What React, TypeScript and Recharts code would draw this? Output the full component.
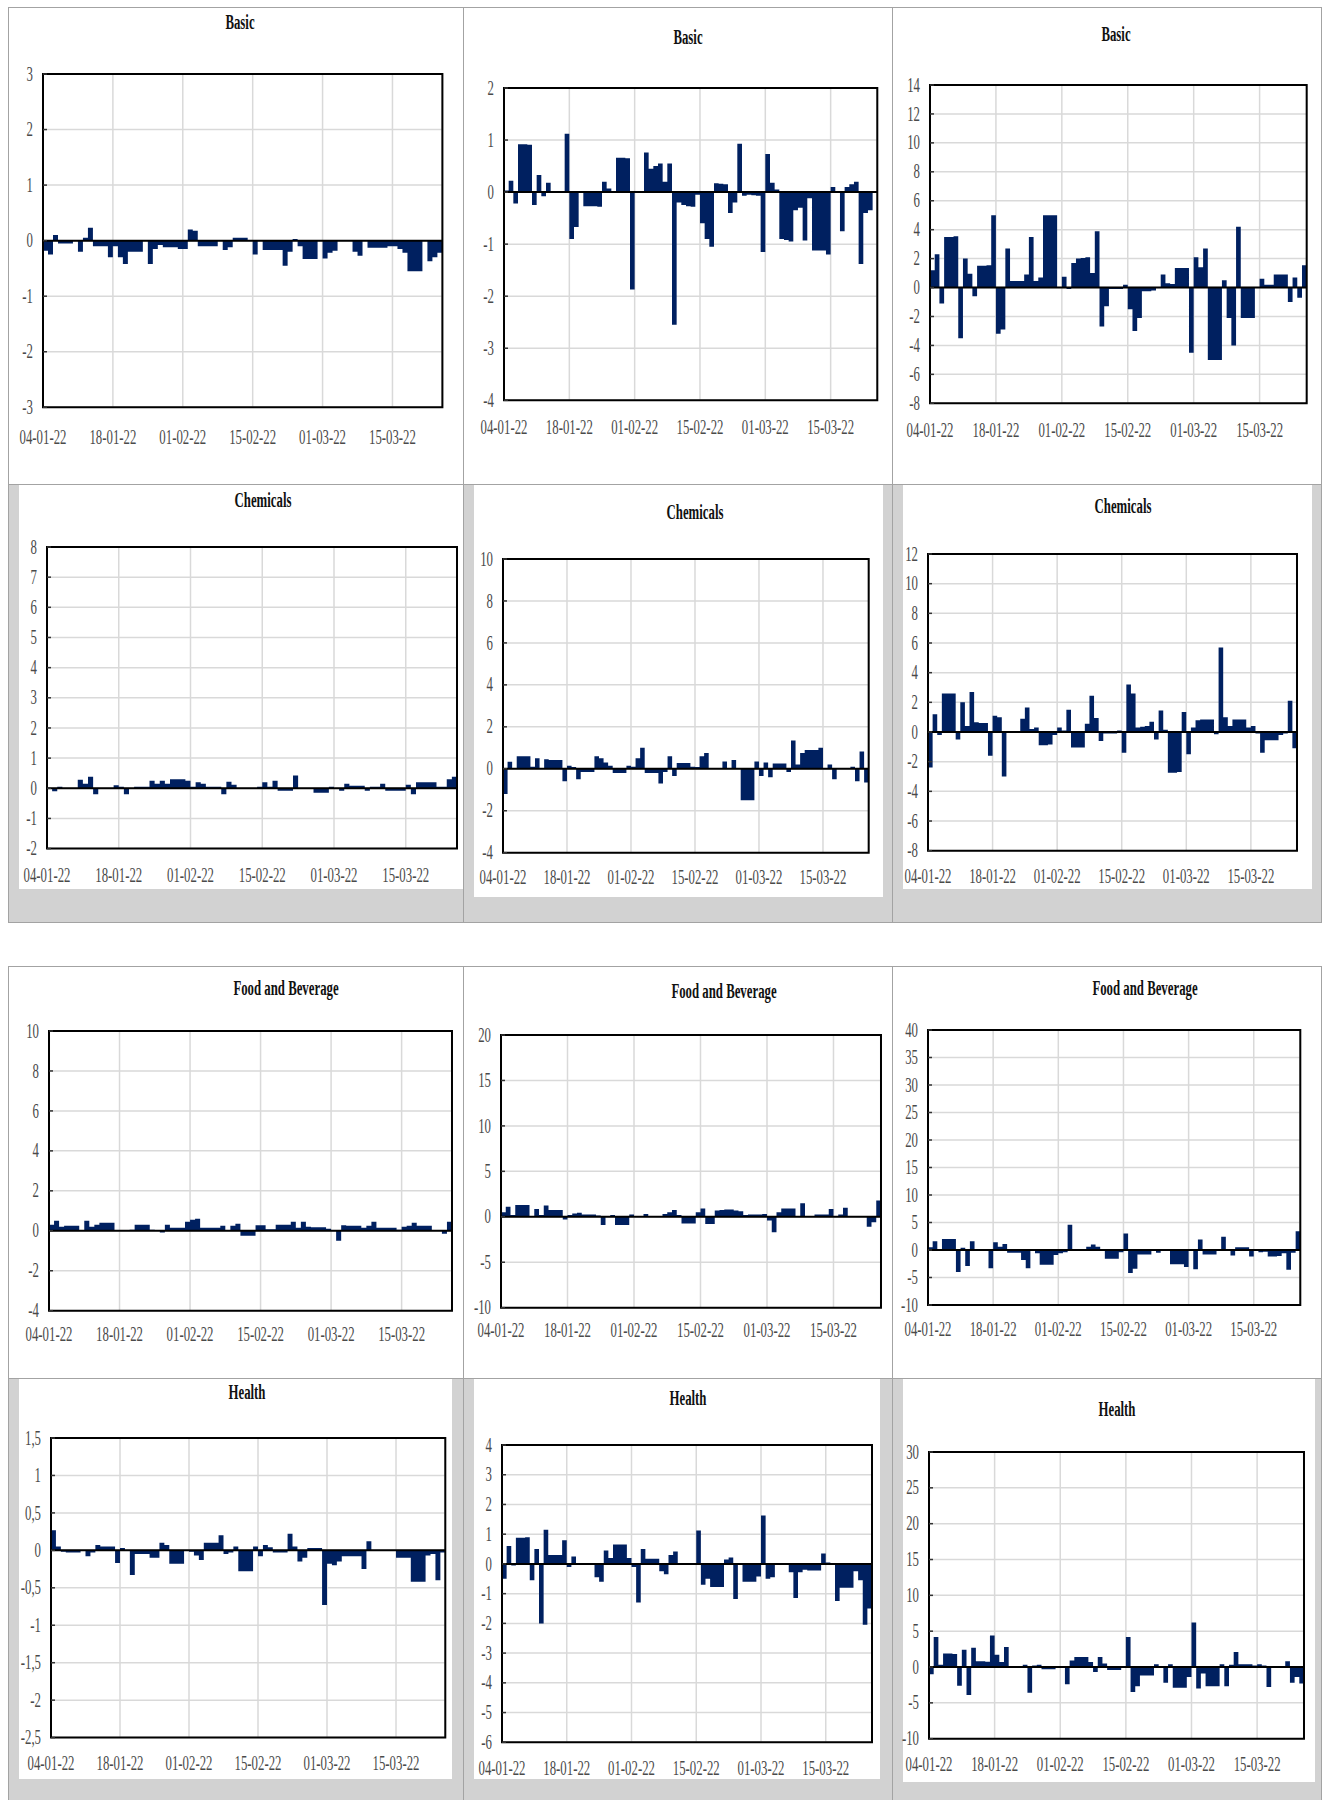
import React from 'react';
import { AreaChart, Area, XAxis, YAxis, CartesianGrid, ReferenceLine, ReferenceArea } from 'recharts';

// ---------- data ----------
const dateTicks = [0, 14, 28, 42, 56, 70];
const dateLabels = ['04-01-22', '18-01-22', '01-02-22', '15-02-22', '01-03-22', '15-03-22'];
const dayCount = 80;

const basic1 = [
  -0.18, -0.25, 0.1, -0.05, -0.05, -0.05, 0, -0.2, 0.05, 0.23,
  -0.1, -0.1, -0.1, -0.3, -0.1, -0.3, -0.42, -0.2, -0.2, -0.2,
  0, -0.42, -0.15, -0.08, -0.12, -0.12, -0.12, -0.15, -0.15, 0.2,
  0.18, -0.1, -0.1, -0.1, -0.1, 0, -0.17, -0.12, 0.05, 0.05,
  0.05, 0, -0.25, 0, -0.17, -0.17, -0.17, -0.17, -0.45, -0.2,
  0.03, -0.1, -0.33, -0.33, -0.33, 0, -0.32, -0.22, -0.18, 0,
  0, 0, -0.2, -0.27, 0, -0.13, -0.13, -0.13, -0.13, -0.1,
  -0.1, -0.15, -0.22, -0.55, -0.55, -0.55, 0, -0.37, -0.3, -0.22,
];
const basic2 = [
  0.03, 0.22, -0.22, 0.92, 0.92, 0.91, -0.25, 0.33, -0.08, 0.18,
  0, 0, 0, 1.12, -0.9, -0.67, 0, -0.27, -0.27, -0.27,
  -0.28, 0.2, 0.07, 0, 0.66, 0.66, 0.65, -1.87, 0, 0.02,
  0.76, 0.45, 0.5, 0.55, 0.2, 0.55, -2.55, -0.2, -0.25, -0.27,
  -0.28, -0.05, -0.6, -0.9, -1.05, 0.17, 0.16, 0.15, -0.4, -0.2,
  0.93, -0.07, -0.05, -0.06, -0.07, -1.15, 0.73, 0.18, 0.05, -0.9,
  -0.92, -0.95, -0.35, -0.3, -0.93, -0.12, -1.12, -1.12, -1.12, -1.2,
  0.1, 0.02, -0.75, 0.1, 0.15, 0.2, -1.38, -0.4, -0.35, 0,
];
const basic3 = [
  1.2, 2.3, -1.1, 3.5, 3.5, 3.55, -3.5, 2.0, 0.95, -0.6,
  1.5, 1.5, 1.55, 5.0, -3.2, -2.9, 2.7, 0.45, 0.45, 0.45,
  0.9, 3.5, 0.45, 0.7, 5.0, 5.0, 5.0, 0, 0.75, -0.1,
  1.7, 2.0, 2.05, 2.1, 1.0, 3.9, -2.7, -1.3, -0.1, -0.1,
  -0.1, 0.2, -1.5, -3.0, -2.1, -0.25, -0.25, -0.2, 0, 0.9,
  0.3, 0.25, 1.35, 1.35, 1.35, -4.5, 2.1, 1.4, 2.7, -5.0,
  -5.0, -5.0, 0.5, -2.1, -4.0, 4.2, -2.1, -2.1, -2.1, 0,
  0.6, 0.2, 0.2, 0.9, 0.9, 0.9, -1.0, 0.7, -0.7, 1.55,
];
const chem1 = [
  0, -0.1, 0.05, 0, 0, 0, 0.28, 0.15, 0.38, -0.2,
  0, 0, 0, 0.1, 0.05, -0.2, 0, 0.05, 0.05, 0.05,
  0.25, 0.15, 0.25, 0.15, 0.3, 0.3, 0.3, 0.25, 0.05, 0.2,
  0.15, 0.05, 0.05, 0.05, -0.2, 0.22, 0.12, 0, 0, 0,
  0, 0.05, 0.2, 0.05, 0.25, -0.08, -0.08, -0.08, 0.42, 0,
  0, 0, -0.15, -0.15, -0.15, 0.05, 0, -0.08, 0.15, 0.08,
  0.08, 0.08, -0.08, 0.05, 0.05, 0.15, -0.08, -0.08, -0.08, -0.08,
  0.12, -0.2, 0.2, 0.2, 0.2, 0.2, 0.05, 0.05, 0.3, 0.38,
];
const chem2 = [
  -1.2, 0.33, 0, 0.6, 0.6, 0.6, 0.1, 0.5, 0, 0.45,
  0.42, 0.42, 0.42, -0.6, 0.15, 0.08, -0.5, -0.15, -0.15, -0.15,
  0.6, 0.5, 0.3, 0.15, -0.2, -0.2, -0.2, 0.15, 0.1, 0.5,
  1.0, -0.2, -0.2, -0.2, -0.7, -0.15, 0.6, -0.35, 0.28, 0.28,
  0.28, 0.1, 0.08, 0.6, 0.75, 0, 0, 0, 0.35, 0,
  0.42, 0, -1.5, -1.5, -1.5, 0.35, -0.35, 0.3, -0.4, 0.25,
  0.25, 0.25, -0.15, 1.35, 0.2, 0.75, 0.9, 0.9, 0.9, 1.0,
  0, 0.2, -0.5, 0, 0, 0, 0.1, -0.6, 0.82, -0.65,
];
const chem3 = [
  -2.4, 1.2, -0.2, 2.6, 2.6, 2.6, -0.5, 2.0, 0.4, 2.7,
  0.65, 0.6, 0.6, -1.6, 1.1, 1.0, -3.0, 0, 0, 0,
  0.9, 1.65, 0.2, 0.3, -0.9, -0.9, -0.85, -0.2, 0.3, 0.1,
  1.5, -1.05, -1.05, -1.05, 0.55, 2.45, 0.95, -0.6, -0.1, -0.1,
  -0.1, 0.1, -1.4, 3.2, 2.6, 0.3, 0.35, 0.4, 0.7, -0.5,
  1.45, 0.15, -2.75, -2.75, -2.7, 1.35, -1.5, 0.3, 0.8, 0.85,
  0.85, 0.85, -0.15, 5.7, 1.0, 0.4, 0.85, 0.85, 0.85, 0.3,
  0.4, -0.1, -1.4, -0.55, -0.55, -0.55, -0.2, -0.1, 2.1, -1.1,
];
const food1 = [
  0.3, 0.5, 0.2, 0.25, 0.25, 0.25, 0, 0.5, 0.2, 0.3,
  0.4, 0.4, 0.4, 0, 0, 0, 0.05, 0.3, 0.3, 0.3,
  0.05, 0, -0.08, 0.3, 0.15, 0.15, 0.15, 0.45, 0.55, 0.6,
  0.15, 0.15, 0.15, 0.15, 0.25, 0, 0.25, 0.35, -0.25, -0.25,
  -0.25, 0.28, 0.28, 0.08, 0.08, 0.3, 0.3, 0.3, 0.45, 0.15,
  0.45, 0.2, 0.18, 0.18, 0.18, 0.1, 0, -0.5, 0.28, 0.25,
  0.25, 0.25, 0.15, 0.25, 0.45, 0.15, 0.15, 0.15, 0.15, 0.05,
  0.2, 0.25, 0.4, 0.25, 0.25, 0.25, 0, 0, -0.15, 0.45,
];
const food2 = [
  0.5, 1.1, 0.2, 1.3, 1.3, 1.3, 0, 0.85, 0.2, 1.25,
  0.75, 0.75, 0.75, -0.3, 0.2, 0.35, 0.45, 0.25, 0.25, 0.25,
  0.15, -0.9, 0.1, 0.2, -0.9, -0.9, -0.9, 0.25, 0, 0,
  0.3, 0, 0, 0, 0.3, 0.5, 0.75, 0.2, -0.75, -0.75,
  -0.75, 0.5, 0.9, -0.8, -0.8, 0.7, 0.75, 0.8, 0.8, 0.7,
  0.6, 0.2, 0.25, 0.25, 0.25, 0.3, -0.4, -1.7, 0.5, 0.9,
  0.9, 0.9, 0, 1.5, 0, 0, 0.25, 0.25, 0.25, 0.85,
  0.1, 0.25, 1.0, 0, 0, 0, 0, -1.1, -0.6, 1.8,
];
const food3 = [
  0.5, 1.6, 0, 2.0, 2.0, 2.0, -4.0, 0.4, -2.9, 1.6,
  0, 0, 0, -3.3, 1.4, 0.6, 1.1, -0.5, -0.5, -0.5,
  -1.8, -3.3, 0, -0.6, -2.7, -2.7, -2.7, -0.9, -0.6, -0.4,
  4.6, 0, 0, 0, 0.6, 1.0, 0.6, 0, -1.6, -1.6,
  -1.6, -0.4, 3.0, -4.2, -3.4, -0.8, -0.8, -0.8, 0, -0.5,
  0, 0, -2.6, -2.6, -2.6, -3.1, 0, -3.5, 1.9, -0.8,
  -0.8, -0.8, 0, 2.4, 0, -1.0, 0.5, 0.5, 0.5, -1.2,
  0, -0.4, -0.3, -1.2, -1.2, -1.1, -0.6, -3.6, -0.5, 3.4,
];
const health1 = [
  0.27, 0.05, -0.02, -0.03, -0.03, -0.03, 0, -0.08, -0.03, 0.07,
  0.05, 0.05, 0.05, -0.17, 0.03, 0, -0.33, -0.05, -0.05, -0.05,
  -0.1, -0.1, 0.1, 0.07, -0.18, -0.18, -0.18, 0, -0.02, -0.07,
  -0.13, 0.1, 0.1, 0.1, 0.2, -0.05, -0.03, 0.05, -0.28, -0.28,
  -0.28, 0.05, -0.08, 0.07, 0.04, -0.03, -0.03, -0.03, 0.22, 0.05,
  -0.15, -0.1, 0.03, 0.03, 0.03, -0.73, -0.18, -0.2, -0.15, -0.08,
  -0.08, -0.08, -0.08, -0.25, 0.12, 0, 0, 0, 0, 0,
  -0.1, -0.1, -0.1, -0.42, -0.42, -0.42, -0.07, -0.05, -0.4, -0.03,
];
const health2 = [
  -0.5, 0.6, -0.05, 0.88, 0.88, 0.9, -0.55, 0.5, -2.0, 1.15,
  0.3, 0.3, 0.3, 0.8, -0.1, 0.25, 0, 0, 0, 0,
  -0.45, -0.6, 0.45, 0.2, 0.65, 0.65, 0.65, 0.2, -0.1, -1.3,
  0.5, 0.17, 0.17, 0.17, -0.25, -0.35, 0.3, 0.42, 0, 0,
  0, 0, 1.12, -0.7, -0.5, -0.78, -0.78, -0.78, 0.15, 0.22,
  -1.18, 0, -0.6, -0.6, -0.6, -0.42, 1.63, -0.5, -0.45, 0.03,
  0.03, 0.03, -0.28, -1.15, -0.28, -0.2, -0.22, -0.22, -0.22, 0.35,
  0.05, 0, -1.25, -0.8, -0.8, -0.8, -0.25, -0.55, -2.05, -1.5,
];
const health3 = [
  -1.0, 4.2, 0.3, 1.9, 1.9, 1.8, -2.6, 2.4, -3.9, 2.7,
  0.8, 0.8, 0.75, 4.4, 1.7, 0.7, 2.8, 0, 0, 0,
  0.3, -3.6, 0.2, 0.3, -0.3, -0.3, -0.3, 0, 0, -2.4,
  0.9, 1.4, 1.4, 1.4, 0.7, -0.7, 1.4, 0.5, -0.4, -0.4,
  -0.4, 0.1, 4.2, -3.5, -2.7, -1.2, -1.2, -1.2, 0.4, 0,
  -2.2, 0.4, -2.9, -2.9, -2.9, -1.4, 6.2, -3.0, -0.9, -2.7,
  -2.7, -2.7, 0.4, -2.7, 0.3, 2.1, 0.4, 0.4, 0.4, 0.2,
  0.4, 0.2, -2.8, 0, 0, 0, 0.8, -2.2, -1.4, -2.3,
];

const ticksBasic1 = [-3, -2, -1, 0, 1, 2, 3];
const ticksBasic2 = [-4, -3, -2, -1, 0, 1, 2];
const ticksBasic3 = [-8, -6, -4, -2, 0, 2, 4, 6, 8, 10, 12, 14];
const ticksChem1 = [-2, -1, 0, 1, 2, 3, 4, 5, 6, 7, 8];
const ticksChem2 = [-4, -2, 0, 2, 4, 6, 8, 10];
const ticksChem3 = [-8, -6, -4, -2, 0, 2, 4, 6, 8, 10, 12];
const ticksFood1 = [-4, -2, 0, 2, 4, 6, 8, 10];
const ticksFood2 = [-10, -5, 0, 5, 10, 15, 20];
const ticksFood3 = [-10, -5, 0, 5, 10, 15, 20, 25, 30, 35, 40];
const ticksHealth1 = [-2.5, -2, -1.5, -1, -0.5, 0, 0.5, 1, 1.5];
const ticksHealth2 = [-6, -5, -4, -3, -2, -1, 0, 1, 2, 3, 4];
const ticksHealth3 = [-10, -5, 0, 5, 10, 15, 20, 25, 30];

// ---------- layout ----------
type Panel = {
  title: string;
  values: number[];
  yTicks: number[];
  plot: [number, number, number, number];
  titleAt: [number, number];
  xGap: number;
};

const panels: Panel[] = [
  { title: 'Basic', values: basic1, yTicks: ticksBasic1, plot: [43.3, 74, 442.7, 407.3], titleAt: [240, 22], xGap: 30 },
  { title: 'Basic', values: basic2, yTicks: ticksBasic2, plot: [503.7, 87.7, 877, 400], titleAt: [687.7, 37], xGap: 27 },
  { title: 'Basic', values: basic3, yTicks: ticksBasic3, plot: [930, 85, 1306.7, 403.3], titleAt: [1115.7, 34], xGap: 27 },
  { title: 'Chemicals', values: chem1, yTicks: ticksChem1, plot: [46.7, 546.7, 456.7, 848.3], titleAt: [263, 500], xGap: 27 },
  { title: 'Chemicals', values: chem2, yTicks: ticksChem2, plot: [503, 559, 868.7, 852.7], titleAt: [695.3, 512], xGap: 25 },
  { title: 'Chemicals', values: chem3, yTicks: ticksChem3, plot: [928.3, 554, 1297.3, 850.7], titleAt: [1123.3, 506], xGap: 26 },
  { title: 'Food and Beverage', values: food1, yTicks: ticksFood1, plot: [49.3, 1031, 452.3, 1310.7], titleAt: [286, 988], xGap: 24 },
  { title: 'Food and Beverage', values: food2, yTicks: ticksFood2, plot: [501.3, 1035, 881.3, 1307.7], titleAt: [724.3, 991], xGap: 23 },
  { title: 'Food and Beverage', values: food3, yTicks: ticksFood3, plot: [927.7, 1030, 1300, 1305], titleAt: [1145, 987.5], xGap: 24 },
  { title: 'Health', values: health1, yTicks: ticksHealth1, plot: [50.7, 1437.7, 445, 1737.3], titleAt: [246.7, 1391.5], xGap: 26 },
  { title: 'Health', values: health2, yTicks: ticksHealth2, plot: [502, 1445, 872, 1742.3], titleAt: [687.7, 1398], xGap: 26 },
  { title: 'Health', values: health3, yTicks: ticksHealth3, plot: [929.3, 1452.3, 1304.3, 1739], titleAt: [1116.7, 1409], xGap: 26 },
];

const FONT = '"Liberation Serif", "Times New Roman", serif';
const SX = 0.64;
const BAR = '#002060';
const LEFT = 50;
const TOP = 16;
const RIGHT = 8;
const BOTTOM = 45;

const YTick = (props: any) => {
  const { x, y, payload } = props;
  const label = String(payload.value).replace('.', ',');
  return (
    <g>
      <line x1={x} x2={x + 4} y1={y} y2={y} stroke="#333" strokeWidth={1.5} />
      <g transform={`translate(${x - 10},${y})`}>
        <text transform={`scale(${SX},1)`} textAnchor="end" dy="0.33em" fontFamily={FONT} fontSize={20} fill="#4a4a4a">
          {label}
        </text>
      </g>
    </g>
  );
};

const XTick = (props: any) => {
  const { x, y, payload, gap } = props;
  const idx = dateTicks.indexOf(payload.value);
  const label = idx >= 0 ? dateLabels[idx] : '';
  return (
    <g transform={`translate(${x},${y + gap})`}>
      <text transform={`scale(${SX},1)`} textAnchor="middle" dy="0.33em" fontFamily={FONT} fontSize={20} fill="#4a4a4a">
        {label}
      </text>
    </g>
  );
};

const PanelChart = ({ p }: { p: Panel }) => {
  const [x0, y0, x1, y1] = p.plot;
  const yMin = p.yTicks[0];
  const yMax = p.yTicks[p.yTicks.length - 1];
  const data = p.values.map((v, i) => ({ day: i, v }));
  data.push({ day: dayCount, v: p.values[p.values.length - 1] });
  const w = x1 - x0 + LEFT + RIGHT;
  const h = y1 - y0 + TOP + BOTTOM;
  return (
    <>
      <div
        style={{
          position: 'absolute',
          left: p.titleAt[0] - 200,
          top: p.titleAt[1] - 12,
          width: 400,
          height: 24,
          lineHeight: '24px',
          textAlign: 'center',
          fontFamily: FONT,
          fontWeight: 'bold',
          fontSize: 20,
          color: '#111',
          transform: `scaleX(${SX})`,
          whiteSpace: 'nowrap',
        }}
      >
        {p.title}
      </div>
      <div style={{ position: 'absolute', left: x0 - LEFT, top: y0 - TOP }}>
        <AreaChart width={w} height={h} data={data} margin={{ top: TOP, right: RIGHT, bottom: 0, left: 0 }} style={{ overflow: 'visible' }}>
          <CartesianGrid stroke="#d9d9d9" strokeWidth={1.5} />
          <XAxis
            dataKey="day"
            type="number"
            domain={[0, dayCount]}
            ticks={dateTicks}
            interval={0}
            height={BOTTOM}
            tickSize={0}
            tickMargin={0}
            axisLine={false}
            tickLine={false}
            tick={(tp: any) => <XTick {...tp} gap={p.xGap} />}
          />
          <YAxis
            type="number"
            domain={[yMin, yMax]}
            ticks={p.yTicks}
            interval={0}
            width={LEFT}
            tickSize={0}
            tickMargin={0}
            axisLine={false}
            tickLine={false}
            allowDataOverflow
            tick={(tp: any) => <YTick {...tp} />}
          />
          <Area
            dataKey="v"
            type="stepAfter"
            baseValue={0}
            fill={BAR}
            fillOpacity={1}
            stroke="none"
            dot={false}
            activeDot={false}
            isAnimationActive={false}
          />
          <ReferenceLine y={0} stroke="#000" strokeWidth={2} />
          <ReferenceArea y1={yMin} y2={yMax} fill="none" fillOpacity={0} stroke="#000" strokeWidth={2} />
        </AreaChart>
      </div>
    </>
  );
};

// decorative frame of the composite figure
const GRAY = '#d2d2d2';
const LINE = '#a3a3a3';
const cols: [number, number][] = [[8, 463], [463, 892], [892, 1321]];
const rows: [number, number][] = [[7, 484], [484, 922], [966, 1378], [1378, 1810]];
const grayCells = [1, 3];
const whiteInner: Record<number, [number, number, number, number][]> = {
  1: [[19, 485, 463, 889], [474, 485, 883, 897], [903, 485, 1312, 889]],
  3: [[19, 1379, 452, 1779], [474, 1379, 880, 1779], [903, 1379, 1315, 1782]],
};

const Frame = () => (
  <>
    {rows.map((r, ri) =>
      cols.map((c, ci) => (
        <div
          key={`c${ri}-${ci}`}
          style={{
            position: 'absolute',
            left: c[0],
            top: r[0],
            width: c[1] - c[0] + 1,
            height: r[1] - r[0] + 1,
            boxSizing: 'border-box',
            border: `1px solid ${LINE}`,
            background: grayCells.includes(ri) ? GRAY : '#fff',
          }}
        />
      ))
    )}
    {grayCells.map((ri) =>
      whiteInner[ri].map((b, i) => (
        <div
          key={`w${ri}-${i}`}
          style={{ position: 'absolute', left: b[0], top: b[1], width: b[2] - b[0], height: b[3] - b[1], background: '#fff' }}
        />
      ))
    )}
  </>
);

export default function App() {
  return (
    <div style={{ position: 'absolute', left: 0, top: 0, width: 1322, height: 1800, background: '#fff', overflow: 'hidden' }}>
      <Frame />
      {panels.map((p, i) => (
        <PanelChart key={i} p={p} />
      ))}
    </div>
  );
}
